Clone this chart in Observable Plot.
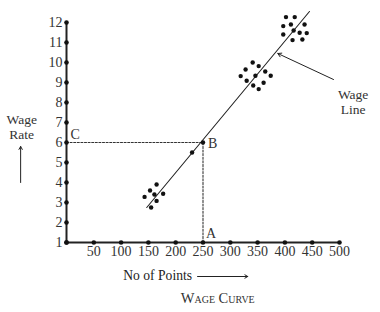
<!DOCTYPE html>
<html><head><meta charset="utf-8">
<script src="https://cdn.jsdelivr.net/npm/d3@7"></script>
<script src="https://cdn.jsdelivr.net/npm/@observablehq/plot@0.6"></script>
<style>
html,body{margin:0;padding:0;background:#fff;}
</style></head><body><div id="chart"></div>
<script>
const xTicks = [50, 100, 150, 200, 250, 300, 350, 400, 450, 500];
const yTicks = [1, 2, 3, 4, 5, 6, 7, 8, 9, 10, 11, 12];
const axisDotsX = [0, 50, 100, 150, 200, 250, 300, 350, 400, 450, 500];

// scatter clusters [points, wage rate]
const clusterLow = [[165, 3.9], [153, 3.6], [143, 3.28], [161, 3.4], [177, 3.44], [165, 3.08], [155, 2.75]];
const clusterMid = [[341, 10.0], [352, 9.82], [328, 9.65], [364, 9.55], [319, 9.32], [346, 9.34], [374, 9.34], [330, 9.09], [361, 8.99], [342, 8.85], [352, 8.67]];
const clusterHigh = [[402, 12.27], [418, 12.27], [397, 11.82], [411, 11.9], [436, 11.9], [416, 11.6], [397, 11.4], [427, 11.49], [440, 11.47], [414, 11.12], [432, 11.15]];
const onLinePoints = [[230, 5.5], [250, 6]];

// wage line endpoints
const wageLine = [[147, 2.75], [445, 12.55]];
// guide from C to B to A
const guide = [[0, 6], [250, 6], [250, 1]];

const labelC = [{x: 0, y: 6, text: "C"}];
const labelB = [{x: 250, y: 6, text: "B"}];
const labelA = [{x: 250, y: 1, text: "A"}];

const allDots = [...clusterLow, ...clusterMid, ...clusterHigh, ...onLinePoints];

const chart = Plot.plot({
  width: 380,
  height: 312,
  marginLeft: 66,
  marginRight: 41,
  marginTop: 22,
  marginBottom: 70,
  x: {domain: [0, 500]},
  y: {domain: [1, 12]},
  style: {fontFamily: "Liberation Serif", fontSize: "12px", color: "#222", background: "#fff"},
  marks: [
    Plot.line(guide, {x: d => d[0], y: d => d[1], stroke: "#333", strokeWidth: 1.1, strokeDasharray: "2,1.6"}),
    Plot.ruleX([0], {y1: 1, y2: 12, stroke: "#222", strokeWidth: 2}),
    Plot.ruleY([1], {x1: 0, x2: 500, stroke: "#222", strokeWidth: 2}),
    Plot.dot(yTicks, {x: 0, y: d => d, r: 2.3, fill: "#111", stroke: null}),
    Plot.dot(axisDotsX, {x: d => d, y: 1, r: 2.3, fill: "#111", stroke: null}),
    Plot.axisY(yTicks, {tickSize: 0, tickPadding: 4, fontSize: 14, tickFormat: d => d, label: null, fill: "#333"}),
    Plot.axisX(xTicks, {tickSize: 0, tickPadding: 4, fontSize: 14, tickFormat: d => d, label: null, fill: "#333"}),
    Plot.line(wageLine, {x: d => d[0], y: d => d[1], stroke: "#222", strokeWidth: 1.1}),
    Plot.dot(allDots, {x: d => d[0], y: d => d[1], r: 2.2, fill: "#111", stroke: null}),
    Plot.text(labelC, {x: "x", y: "y", text: "text", dx: 4, dy: -8, textAnchor: "start", fontSize: 14, fill: "#333"}),
    Plot.text(labelB, {x: "x", y: "y", text: "text", dx: 5, dy: 1, textAnchor: "start", fontSize: 14, fill: "#333"}),
    Plot.text(labelA, {x: "x", y: "y", text: "text", dx: 3, dy: -9, textAnchor: "start", fontSize: 14, fill: "#333"}),
    Plot.text(["Wage\nLine"], {x: 525, y: 8.05, text: d => d, fontSize: 13.5, lineHeight: 1.1, fill: "#333"}),
    Plot.arrow([[489, 9.15, 387, 10.45]], {x1: d => d[0], y1: d => d[1], x2: d => d[2], y2: d => d[3], stroke: "#222", strokeWidth: 1, headLength: 6}),
    Plot.text(["Wage\nRate"], {x: -82, y: 6.78, text: d => d, fontSize: 13.5, lineHeight: 1.05, fill: "#333"}),
    Plot.arrow([[-84, 4.0, -84, 5.8]], {x1: d => d[0], y1: d => d[1], x2: d => d[2], y2: d => d[3], stroke: "#222", strokeWidth: 1, headLength: 5}),
    Plot.text(["No of Points"], {x: 104, y: -0.65, text: d => d, textAnchor: "start", fontSize: 13.6, fill: "#222"}),
    Plot.arrow([[240, -0.7, 332, -0.7]], {x1: d => d[0], y1: d => d[1], x2: d => d[2], y2: d => d[3], stroke: "#222", strokeWidth: 1, headLength: 5}),
    Plot.text(["Wage Curve"], {x: 277, y: -1.8, text: d => d, fontSize: 14.5, fontVariant: "small-caps", letterSpacing: "0.8px", fill: "#333"})
  ]
});
document.getElementById("chart").append(chart);
</script>
</body></html>
